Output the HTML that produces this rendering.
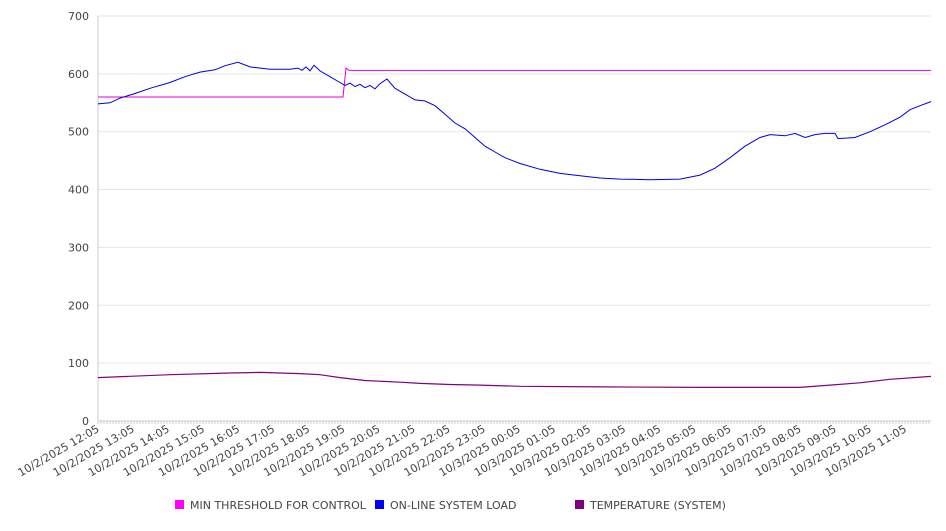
<!DOCTYPE html><html><head><style>body{margin:0;background:#fff}svg text{font-family:"DejaVu Sans","Liberation Sans",sans-serif;fill:#444;font-size:11px}</style></head><body>
<svg id="s" width="946" height="526" xmlns="http://www.w3.org/2000/svg"></svg>
<script>
const s=document.getElementById('s');let h='';
const Y=v=>421-v*0.5786;
for(let v=0;v<=700;v+=100){h+=`<line x1="98" x2="931" y1="${Y(v)}" y2="${Y(v)}" stroke="#e6e6e6"/>`;h+=`<text x="89" y="${Y(v)+4}" text-anchor="end">${v}</text>`;}
h+=`<line x1="98" x2="98" y1="16" y2="421" stroke="#ccc"/><line x1="98" x2="931" y1="421" y2="421" stroke="#ccc"/>`;
for(let x=98;x<=931;x+=3)h+=`<line x1="${x}" x2="${x}" y1="421" y2="424" stroke="#ccc"/>`;
for(let i=0;i<24;i++){const hr=(12+i)%24,d=12+i<24?'10/2/2025':'10/3/2025';const x=98+i*35.1;h+=`<text transform="translate(${x+2},431) rotate(-30)" text-anchor="end">${d} ${String(hr).padStart(2,'0')}:05</text>`;}
const pl=(pts,c,w)=>`<polyline fill="none" stroke="${c}" stroke-width="${w}" points="${pts.map(p=>p[0]+','+Y(p[1]).toFixed(1)).join(' ')}"/>`;
h+=pl([[98,560],[343,560],[346,610],[349,606],[931,606]],'#e000e0',1);
h+=pl([[98,548],[110,550],[120,558],[135,566],[150,575],[170,585],[185,595],[200,603],[215,607],[225,614],[238,620],[250,612],[270,608],[290,608],[298,610],[302,606],[306,612],[310,605],[314,615],[320,605],[330,595],[340,585],[345,580],[350,584],[355,578],[360,582],[365,576],[370,580],[375,574],[380,583],[387,591],[395,575],[405,565],[415,555],[425,553],[435,545],[445,530],[455,515],[465,505],[475,490],[485,475],[495,465],[505,455],[520,445],[540,435],[560,428],[580,424],[600,420],[620,418],[650,417],[680,418],[700,425],[715,437],[730,455],[745,475],[760,490],[770,495],[785,493],[795,497],[805,490],[815,495],[825,497],[835,497],[838,488],[855,490],[870,500],[885,512],[900,525],[910,538],[920,545],[931,552]],'#0000e0',1);
h+=pl([[98,75],[170,80],[230,83],[260,84],[300,82],[320,80],[340,75],[365,70],[400,67],[420,65],[450,63],[480,62],[520,60],[600,59],[700,58],[800,58],[830,62],[860,66],[890,72],[931,77]],'#800080',1.2);
[[175,'#ff00ff','MIN THRESHOLD FOR CONTROL'],[375,'#0000ff','ON-LINE SYSTEM LOAD'],[575,'#800080','TEMPERATURE (SYSTEM)']].forEach(([x,c,t])=>{h+=`<rect x="${x}" y="500" width="9" height="9" fill="${c}"/><text x="${x+15}" y="509">${t}</text>`});
s.innerHTML=h;
</script></body></html>
